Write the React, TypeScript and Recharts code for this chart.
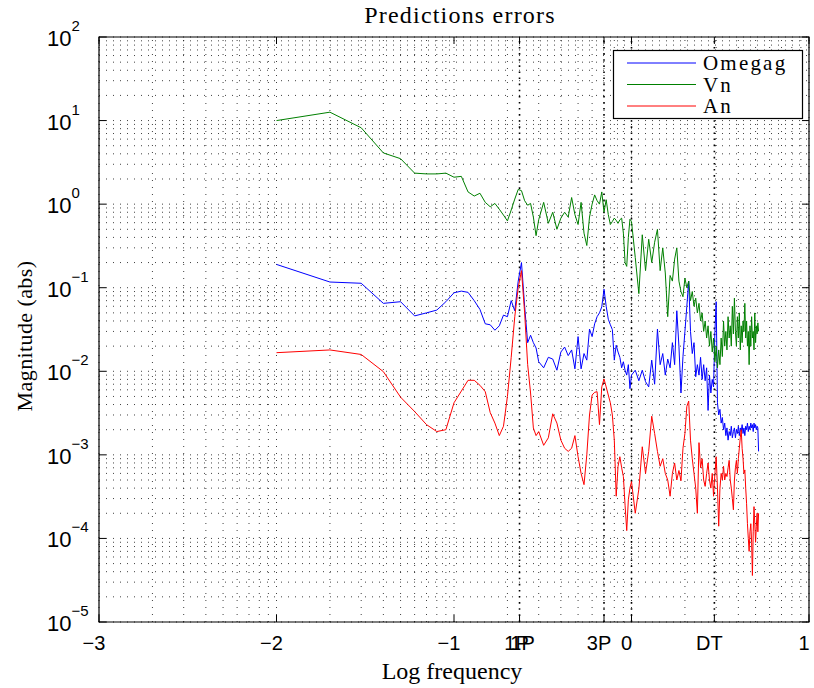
import React from 'react';
import {
  LineChart,
  Line,
  XAxis,
  YAxis,
  ReferenceLine,
  ReferenceArea,
} from 'recharts';

// frequency grid (Hz)
const freq = [
  0.01, 0.02, 0.03, 0.04, 0.05, 0.06, 0.07, 0.08, 0.09, 0.1,
  0.11, 0.12, 0.13, 0.14, 0.15, 0.16, 0.17, 0.18, 0.19, 0.2,
  0.21, 0.22, 0.23, 0.24, 0.25, 0.26, 0.27, 0.28, 0.29, 0.3,
  0.32, 0.34, 0.36, 0.38, 0.4, 0.42, 0.44, 0.46, 0.48, 0.5,
  0.52, 0.54, 0.56, 0.58, 0.6, 0.62, 0.64, 0.66, 0.68, 0.7,
  0.72, 0.74, 0.76, 0.78, 0.8, 0.82, 0.84, 0.86, 0.88, 0.9,
  0.92, 0.94, 0.96, 0.98, 1.0,
  1.05, 1.1, 1.15, 1.2, 1.25, 1.3, 1.35, 1.4, 1.45, 1.5,
  1.55, 1.6, 1.65, 1.7, 1.75, 1.8, 1.85, 1.9, 1.95, 2.0,
  2.05, 2.1, 2.15, 2.2, 2.25, 2.3, 2.35, 2.4, 2.45, 2.5,
  2.55, 2.6, 2.65, 2.7, 2.75, 2.8, 2.85, 2.9, 2.95, 3.0,
  3.05, 3.1, 3.15, 3.2, 3.25, 3.3, 3.35, 3.4, 3.45, 3.5,
  3.55, 3.6, 3.65, 3.7, 3.75, 3.8, 3.85, 3.9, 3.95, 4.0,
  4.05, 4.1, 4.15, 4.2, 4.25, 4.3, 4.35, 4.4, 4.45, 4.5,
  4.55, 4.6, 4.65, 4.7, 4.75, 4.8, 4.85, 4.9, 4.95, 5.0,
  5.05, 5.1, 5.15, 5.2,
];

const omegag = [
  0.19, 0.117, 0.113, 0.065, 0.068, 0.046, 0.05, 0.054, 0.068, 0.087,
  0.091, 0.088, 0.07, 0.055, 0.037, 0.036, 0.031, 0.035, 0.047, 0.045,
  0.07, 0.053, 0.12, 0.2, 0.06, 0.022, 0.027, 0.022, 0.019, 0.013,
  0.011, 0.0147, 0.014, 0.0103, 0.017, 0.0195, 0.0154, 0.018, 0.0107, 0.026,
  0.0107, 0.0163, 0.0136, 0.032, 0.026, 0.037, 0.045, 0.05, 0.059, 0.096,
  0.06, 0.042, 0.036, 0.0315, 0.0136, 0.0205, 0.017, 0.0147, 0.011, 0.013,
  0.0103, 0.009, 0.012, 0.0062, 0.009,
  0.0103, 0.0077, 0.0103, 0.0075, 0.0065, 0.0136, 0.007, 0.032, 0.012, 0.0163,
  0.009, 0.014, 0.011, 0.022, 0.012, 0.053, 0.02, 0.0055, 0.015, 0.03,
  0.06, 0.12, 0.03, 0.0163, 0.022, 0.0086, 0.012, 0.009, 0.0147, 0.008,
  0.012, 0.0077, 0.011, 0.0034, 0.009, 0.0055, 0.008, 0.0065, 0.03, 0.068,
  0.0042, 0.003, 0.0035, 0.0024, 0.0028, 0.002, 0.0024, 0.0017, 0.0021, 0.0015,
  0.0019, 0.0017, 0.0022, 0.0016, 0.0019, 0.0021, 0.0016, 0.002, 0.0018, 0.0022,
  0.0017, 0.0021, 0.0019, 0.0023, 0.0018, 0.0021, 0.0017, 0.0022, 0.002, 0.0024,
  0.0019, 0.0022, 0.002, 0.0024, 0.0021, 0.0023, 0.0019, 0.0024, 0.0021, 0.0023,
  0.002, 0.0022, 0.0021, 0.0011,
];

const vn = [
  10, 12.6, 8.2, 4.1, 3.5, 2.35, 2.3, 2.3, 2.35, 2.1,
  2.15, 1.4, 1.25, 1.35, 1.05, 0.93, 1.02, 0.87, 0.74, 0.63,
  0.85, 1.15, 1.5, 1.45, 1.1, 0.97, 1.02, 0.7, 0.42, 0.65,
  1.05, 0.59, 0.8, 0.5, 0.68, 0.8, 0.7, 1.2, 0.75, 0.57,
  1.05, 0.45, 0.32, 0.7, 1.0, 1.29, 1.1, 1.0, 1.4, 0.8,
  1.13, 0.75, 0.57, 0.62, 0.68, 0.64, 0.59, 0.65, 0.68, 0.45,
  0.2, 0.18, 0.4, 0.66, 0.62,
  0.23, 0.085, 0.43, 0.16, 0.38, 0.2, 0.35, 0.5, 0.16, 0.3,
  0.15, 0.045, 0.14, 0.12, 0.22, 0.3, 0.12, 0.09, 0.078, 0.13,
  0.1, 0.12, 0.07, 0.09, 0.06, 0.075, 0.05, 0.065, 0.04, 0.05,
  0.03, 0.04, 0.025, 0.035, 0.02, 0.03, 0.017, 0.025, 0.013, 0.02,
  0.011, 0.018, 0.012, 0.025, 0.015, 0.04, 0.02, 0.03, 0.018, 0.045,
  0.025, 0.035, 0.02, 0.06, 0.028, 0.075, 0.03, 0.02, 0.045, 0.025,
  0.05, 0.018, 0.035, 0.022, 0.04, 0.03, 0.065, 0.025, 0.04, 0.02,
  0.03, 0.012, 0.035, 0.02, 0.045, 0.025, 0.03, 0.018, 0.05, 0.022,
  0.035, 0.028, 0.038, 0.03,
];

const an = [
  0.0167, 0.018, 0.0159, 0.0099, 0.0049, 0.0033, 0.0023, 0.0019, 0.002, 0.0042,
  0.0058, 0.0078, 0.0078, 0.0068, 0.0057, 0.0032, 0.0024, 0.0017, 0.0022, 0.005,
  0.0147, 0.045, 0.1, 0.16, 0.05, 0.012, 0.0055, 0.0021, 0.0017, 0.0019,
  0.0013, 0.0016, 0.0031, 0.0024, 0.0015, 0.0012, 0.0011, 0.0012, 0.0017, 0.00095,
  0.0006, 0.00044, 0.001, 0.003, 0.0052, 0.0056, 0.0057, 0.0023, 0.0065, 0.0081,
  0.0065, 0.0052, 0.0042, 0.003, 0.0015, 0.00032, 0.00073, 0.00095, 0.0007, 0.00055,
  0.00025, 0.000124, 0.00029, 0.0004, 0.00048,
  0.0002, 0.00039, 0.00125, 0.0006, 0.0011, 0.0029, 0.0018, 0.0011, 0.00073, 0.0009,
  0.0006, 0.0005, 0.00032, 0.0006, 0.0008, 0.0005, 0.00065, 0.00049, 0.0012, 0.0018,
  0.0038, 0.0044, 0.0015, 0.0009, 0.0006, 0.0004, 0.0002, 0.0014, 0.0007, 0.0009,
  0.0005, 0.00042, 0.0006, 0.0008, 0.0005, 0.0004, 0.0006, 0.00032, 0.0006, 0.00095,
  0.0004, 0.00014, 0.0004, 0.0006, 0.0005, 0.00073, 0.0005, 0.0006, 0.00055, 0.0007,
  0.00086, 0.0005, 0.0004, 0.0003, 0.00022, 0.0005, 0.0007, 0.00086, 0.0006, 0.0009,
  0.0012, 0.0016, 0.002, 0.0012, 0.0009, 0.0006, 0.00066, 0.0004, 0.00026, 0.00015,
  0.0001, 0.00007, 0.00012, 0.00015, 0.00009, 0.000036, 0.00012, 0.00024, 0.00015, 0.00009,
  0.00014, 0.0002, 0.00012, 0.0002,
];

const xTicks = [0.001, 0.01, 0.1, 0.234, 0.7, 1, 2.93, 10];
const xTickLabels = ['\u22123', '\u22122', '\u22121', '1P', '3P', '0', 'DT', '1'];
const yTicks = [1e-5, 1e-4, 1e-3, 1e-2, 1e-1, 1, 10, 100];
const yTickExponents = ['\u22125', '\u22124', '\u22123', '\u22122', '\u22121', '0', '1', '2'];
const markerLines = [0.234, 0.7, 1, 2.93];

const seriesKeys = ['omegag', 'vn', 'an'];
const seriesNames = ['Omegag', 'Vn', 'An'];
const seriesColors = ['#0000ff', '#008000', '#ff0000'];

const data = freq.map((f, i) => ({ f, omegag: omegag[i], vn: vn[i], an: an[i] }));

// log grid lines
const xGrid: number[] = [];
[0.001, 0.01, 0.1, 1].forEach(d => {
  for (let m = 1; m <= 9; m++) xGrid.push(d * m);
});
xGrid.push(10);
const yGrid: number[] = [];
[1e-5, 1e-4, 1e-3, 1e-2, 1e-1, 1, 10].forEach(d => {
  for (let m = 1; m <= 9; m++) yGrid.push(d * m);
});
yGrid.push(100);

const sans = '"Liberation Sans", Arial, sans-serif';
const serif = '"Liberation Serif", "Times New Roman", serif';

const BottomTick = ({ x, y, payload }: any) => {
  const label = xTickLabels[xTicks.indexOf(payload.value)] ?? '';
  const txt = (dx: number) => (
    <text x={x + dx} y={y + 28} textAnchor="middle" fontFamily={sans} fontSize={20} fill="#000">
      {label}
    </text>
  );
  return (
    <g>
      <line x1={x} y1={y} x2={x} y2={y - 7} stroke="#000" />
      {label === '1P' ? (
        <>
          {txt(-3)}
          {txt(3)}
        </>
      ) : (
        txt(-5)
      )}
    </g>
  );
};

const TopTick = ({ x, y }: any) => (
  <line x1={x} y1={y} x2={x} y2={y + 7} stroke="#000" />
);

const LeftTick = ({ x, y, payload }: any) => {
  const exp = yTickExponents[yTicks.indexOf(payload.value)] ?? '';
  return (
    <g>
      <line x1={x} y1={y} x2={x + 7} y2={y} stroke="#000" />
      <text x={x - 52} y={y + 9} fontFamily={sans} fontSize={22} fill="#000">
        10
        <tspan dy={-15} fontSize={15}>
          {exp}
        </tspan>
      </text>
    </g>
  );
};

const RightTick = ({ x, y }: any) => (
  <line x1={x} y1={y} x2={x - 7} y2={y} stroke="#000" />
);

const App = () => {
  return (
    <div style={{ position: 'absolute', left: 0, top: 0, width: 814, height: 688, background: '#fff' }}>
      <LineChart
        width={814}
        height={688}
        data={data}
        margin={{ top: 27, right: 0, bottom: 36, left: 39 }}
      >
        <XAxis
          dataKey="f"
          type="number"
          scale="log"
          domain={[0.001, 10]}
          ticks={xTicks}
          allowDataOverflow
          height={30}
          tickSize={0}
          tickMargin={0}
          tickLine={false}
          axisLine={false}
          tick={<BottomTick />}
          interval={0}
        />
        <XAxis
          xAxisId="top"
          orientation="top"
          dataKey="f"
          type="number"
          scale="log"
          domain={[0.001, 10]}
          ticks={xTicks}
          allowDataOverflow
          height={10}
          tickSize={0}
          tickMargin={0}
          tickLine={false}
          axisLine={false}
          tick={<TopTick />}
          interval={0}
        />
        <YAxis
          type="number"
          scale="log"
          domain={[1e-5, 100]}
          ticks={yTicks}
          allowDataOverflow
          width={60}
          tickSize={0}
          tickMargin={0}
          tickLine={false}
          axisLine={false}
          tick={<LeftTick />}
          interval={0}
        />
        <YAxis
          yAxisId="right"
          orientation="right"
          type="number"
          scale="log"
          domain={[1e-5, 100]}
          ticks={yTicks}
          allowDataOverflow
          width={5}
          tickSize={0}
          tickMargin={0}
          tickLine={false}
          axisLine={false}
          tick={<RightTick />}
          interval={0}
        />
        {xGrid.map(v => (
          <ReferenceLine key={`xg-${v}`} x={v} stroke="#000" strokeWidth={1} strokeDasharray="1 6" strokeOpacity={0.75} />
        ))}
        {yGrid.map(v => (
          <ReferenceLine key={`yg-${v}`} y={v} stroke="#000" strokeWidth={1} strokeDasharray="1 6" strokeOpacity={0.75} />
        ))}
        {markerLines.map(v => (
          <ReferenceLine key={`mk-${v}`} x={v} stroke="#000" strokeWidth={1.6} strokeDasharray="1.6 4.5" />
        ))}
        {seriesKeys.map((k, i) => (
          <Line
            key={k}
            dataKey={k}
            name={seriesNames[i]}
            type="linear"
            stroke={seriesColors[i]}
            strokeWidth={1}
            dot={false}
            isAnimationActive={false}
          />
        ))}
        <ReferenceArea x1={0.001} x2={10} y1={1e-5} y2={100} fill="none" stroke="#000" strokeWidth={1.2} />
      </LineChart>
      <svg
        width={814}
        height={688}
        style={{ position: 'absolute', left: 0, top: 0, pointerEvents: 'none' }}
      >
        <text x={460} y={23} textAnchor="middle" fontFamily={serif} fontSize={24} letterSpacing={1.2} fill="#000">
          Predictions errors
        </text>
        <text x={452} y={679} textAnchor="middle" fontFamily={serif} fontSize={24} fill="#000">
          Log frequency
        </text>
        <text
          transform="translate(32,336) rotate(-90)"
          textAnchor="middle"
          fontFamily={serif}
          fontSize={22}
          letterSpacing={0.4}
          fill="#000"
        >
          Magnitude (abs)
        </text>
        <rect x={613.5} y={50.5} width={189} height={68} fill="#fff" stroke="#000" strokeWidth={1.2} />
        {seriesNames.map((n, i) => (
          <g key={n}>
            <line x1={627} x2={696} y1={63 + i * 21.5} y2={63 + i * 21.5} stroke={seriesColors[i]} strokeWidth={1} />
            <text x={703} y={70 + i * 21.5} fontFamily={serif} fontSize={21} letterSpacing={2.2} fill="#000">
              {n}
            </text>
          </g>
        ))}
      </svg>
    </div>
  );
};

export default App;
